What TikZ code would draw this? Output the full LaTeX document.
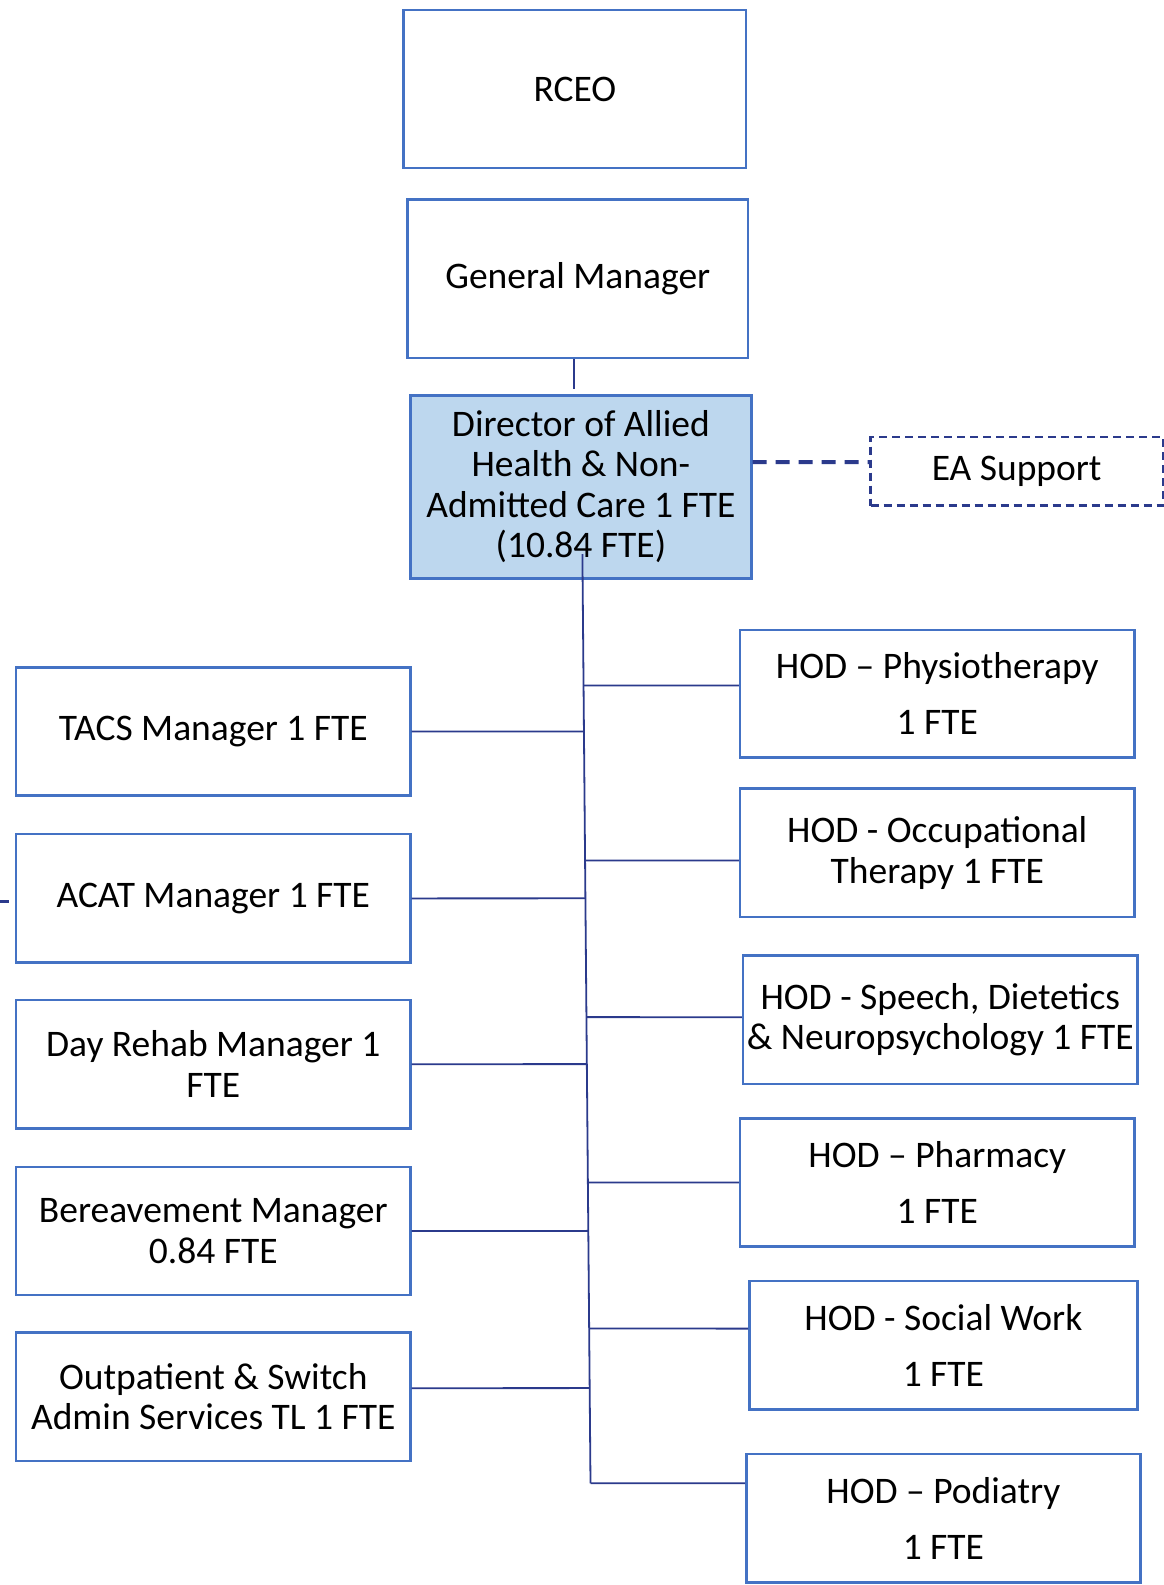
\documentclass[tikz,border=0pt]{standalone}
\usepackage{fontspec}
\setmainfont{Carlito}
\definecolor{boxblue}{HTML}{4472C4}
\definecolor{fillblue}{HTML}{BDD7EE}
\definecolor{linkblue}{HTML}{2B3A8C}
\tikzset{
  unit/.style={draw=boxblue, line width=2.5pt, align=center, inner sep=0pt,
    font=\fontsize{37.5}{40.5}\selectfont},
  sidebox/.style={unit, minimum width=394.3, minimum height=128.4},
  link/.style={draw=linkblue, line width=1.8pt},
  dashlink/.style={draw=linkblue, line width=4pt, dash pattern=on 14pt off 9pt},
}
\begin{document}
\begin{tikzpicture}[x=1pt, y=-1pt]
    \fill[white] (0,0) rectangle (1164,1585);
    \useasboundingbox (0,0) rectangle (1164,1585);

    % top of the chart
    \node[unit, minimum width=342.8, minimum height=157.7] (rceo) at (574.8, 89) {RCEO};
    \node[unit, minimum width=340.7, minimum height=158.7] (gm)   at (577.8, 278.6) {General Manager};
    \node[unit, fill=fillblue, minimum width=340.7, minimum height=183] (dir) at (580.9, 486.8)
        {Director of Allied\\Health \& Non-\\Admitted Care 1 FTE\\(10.84 FTE)};
    \node[unit, draw=linkblue, dash pattern=on 8pt off 5pt, minimum width=292.2, minimum height=68.8] (ea)
        at (1016.7, 471.2) {EA Support};

    % heads of department
    \node[sidebox, minimum height=127.4] (phys) at (937.3, 693.6) {HOD – Physiotherapy\\[15.2pt]1 FTE};
    \node[sidebox] (ot)     at (937.3, 852.9)  {HOD - Occupational\\Therapy 1 FTE};
    \node[sidebox] (speech) at (940.3, 1019.7) {HOD - Speech, Dietetics\\\& Neuropsychology 1 FTE};
    \node[sidebox] (pharm)  at (937.3, 1182.5) {HOD – Pharmacy\\[15.2pt]1 FTE};
    \node[sidebox, minimum width=388.3] (social) at (943.4, 1345.3) {HOD - Social Work\\[15.2pt]1 FTE};
    \node[sidebox] (pod)    at (943.4, 1518.2) {HOD – Podiatry\\[15.2pt]1 FTE};

    % managers
    \node[sidebox] (tacs)   at (213.3, 731.5)  {TACS Manager 1 FTE};
    \node[sidebox] (acat)   at (213.3, 898.4)  {ACAT Manager 1 FTE};
    \node[sidebox] (rehab)  at (213.3, 1064.2) {Day Rehab Manager 1\\FTE};
    \node[sidebox] (bereav) at (213.3, 1231)   {Bereavement Manager\\0.84 FTE};
    \node[sidebox] (outp)   at (213.3, 1396.8) {Outpatient \& Switch\\Admin Services TL 1 FTE};

    \coordinate (ttop) at (582.4, 554.1);
    \coordinate (tbot) at (590.5, 1483.3);
    \coordinate (stub) at (0, 901);

    \draw[link] ([xshift=-4pt]gm.south) -- ++(0, 29.3);
    \draw[dashlink] ([yshift=24.8pt]dir.east) -- ([yshift=9.1pt]ea.west);
    \draw[link] (ttop) -- (tbot);

    \draw[link] ([yshift=8.1pt]phys.west)    -- ([yshift=8.1pt]intersection of ttop--tbot and phys.west--phys.east);
    \draw[link] ([yshift=-7.6pt]ot.west)     -- ([yshift=-7.6pt]intersection of ttop--tbot and ot.west--ot.east);
    \draw[link] ([yshift=2.5pt]speech.west)  -- ([yshift=2.5pt]intersection of ttop--tbot and speech.west--speech.east);
    \draw[link] (pharm.west)                 -- (intersection of ttop--tbot and pharm.west--pharm.east);
    \draw[link] ([yshift=16.7pt]social.west) -- ([yshift=16.7pt]intersection of ttop--tbot and social.west--social.east);
    \draw[link] ([yshift=34.9pt]pod.west)    -- ([yshift=34.9pt]intersection of ttop--tbot and pod.west--pod.east);

    \draw[link] (tacs.east)   -- (intersection of ttop--tbot and tacs.west--tacs.east);
    \draw[link] (acat.east)   -- (intersection of ttop--tbot and acat.west--acat.east);
    \draw[link] (rehab.east)  -- (intersection of ttop--tbot and rehab.west--rehab.east);
    \draw[link] (bereav.east) -- (intersection of ttop--tbot and bereav.west--bereav.east);
    \draw[link] ([yshift=8.6pt]outp.east) -- ([yshift=8.6pt]intersection of ttop--tbot and outp.west--outp.east);

    \draw[link, line width=3pt] (stub) -- ++(9, 0);
\end{tikzpicture}
\end{document}
